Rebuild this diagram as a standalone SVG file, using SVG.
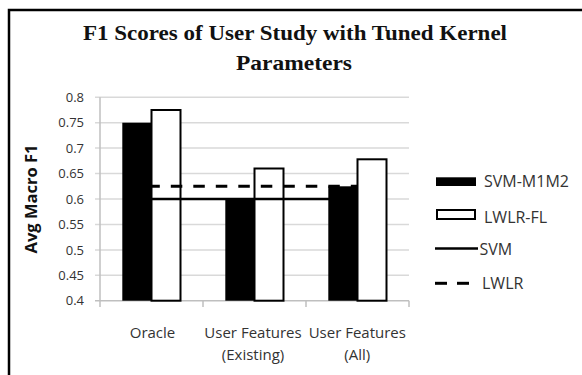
<svg xmlns="http://www.w3.org/2000/svg" width="582" height="375" viewBox="0 0 582 375">
<style>
.title{font-family:"Liberation Serif",serif;font-weight:bold;font-size:22px;fill:#111;text-anchor:middle}
.ylab{font-family:"Open Sans","Liberation Sans",sans-serif;font-size:13px;fill:#333;text-anchor:end}
.cat{font-family:"Open Sans","Liberation Sans",sans-serif;font-size:15px;fill:#333;text-anchor:middle}
.leg{font-family:"Open Sans","Liberation Sans",sans-serif;font-size:16px;fill:#333}
.axt{font-family:"Open Sans","Liberation Sans",sans-serif;font-size:16.5px;font-weight:bold;fill:#111;text-anchor:middle}
.grid{stroke:#d9d9d9;stroke-width:1.5}
.axis{stroke:#bfbfbf;stroke-width:1.5}
.bk{fill:#000}
.wt{fill:#fff;stroke:#000;stroke-width:2}
.solid{stroke:#000;stroke-width:2.5;fill:none}
.dash{stroke:#000;stroke-width:3;fill:none;stroke-dasharray:11.5 11}
</style>
<rect x="0" y="0" width="582" height="375" fill="#fff"/>
<rect x="9" y="10" width="620" height="420" fill="none" stroke="#000" stroke-width="2.5"/>
<g id="title">
<text class="title" x="295" y="40" textLength="424" lengthAdjust="spacingAndGlyphs">F1 Scores of User Study with Tuned Kernel</text>
<text class="title" x="294" y="70" textLength="116" lengthAdjust="spacingAndGlyphs">Parameters</text>
</g>
<g id="grid">
<line class="grid" x1="95" y1="97.3" x2="409" y2="97.3"/>
<line class="grid" x1="95" y1="122.7" x2="409" y2="122.7"/>
<line class="grid" x1="95" y1="148.1" x2="409" y2="148.1"/>
<line class="grid" x1="95" y1="173.6" x2="409" y2="173.6"/>
<line class="grid" x1="95" y1="199" x2="409" y2="199"/>
<line class="grid" x1="95" y1="224.4" x2="409" y2="224.4"/>
<line class="grid" x1="95" y1="249.9" x2="409" y2="249.9"/>
<line class="grid" x1="95" y1="275.3" x2="409" y2="275.3"/>
<line class="axis" x1="95" y1="300.7" x2="409" y2="300.7"/>
<line class="axis" x1="100" y1="97.3" x2="100" y2="300.7"/>
<line class="axis" x1="100" y1="300.7" x2="100" y2="307"/>
<line class="axis" x1="203" y1="300.7" x2="203" y2="307"/>
<line class="axis" x1="306" y1="300.7" x2="306" y2="307"/>
<line class="axis" x1="409" y1="300.7" x2="409" y2="307"/>
</g>
<g id="yaxis">
<text class="ylab" x="84" y="102">0.8</text>
<text class="ylab" x="84" y="127.4">0.75</text>
<text class="ylab" x="84" y="152.8">0.7</text>
<text class="ylab" x="84" y="178.3">0.65</text>
<text class="ylab" x="84" y="203.7">0.6</text>
<text class="ylab" x="84" y="229.1">0.55</text>
<text class="ylab" x="84" y="254.6">0.5</text>
<text class="ylab" x="84" y="280">0.45</text>
<text class="ylab" x="84" y="305.4">0.4</text>
<text class="axt" transform="translate(37,199) rotate(-90)">Avg Macro F1</text>
</g>
<g id="bars">
<rect class="bk" x="122.3" y="122.7" width="29.2" height="178"/>
<rect class="wt" x="151.5" y="110" width="29" height="190.7"/>
<rect class="bk" x="225.3" y="199" width="29.2" height="101.7"/>
<rect class="wt" x="254.5" y="168.5" width="29" height="132.2"/>
<rect class="bk" x="328.3" y="186.3" width="29.2" height="114.4"/>
<rect class="wt" x="357.5" y="159.3" width="29" height="141.4"/>
</g>
<g id="connectors">
<line class="solid" x1="151.5" y1="199" x2="357.5" y2="199"/>
<line class="dash" x1="151.5" y1="186.3" x2="357.5" y2="186.3" stroke-dashoffset="3.2"/>
</g>
<g id="xaxis">
<text class="cat" x="152.5" y="338">Oracle</text>
<text class="cat" x="253" y="338">User Features</text>
<text class="cat" x="253" y="360">(Existing)</text>
<text class="cat" x="357.3" y="338">User Features</text>
<text class="cat" x="357.3" y="360">(All)</text>
</g>
<g id="legend">
<rect x="436" y="177.3" width="40" height="8.7" fill="#000"/>
<text class="leg" x="484" y="187">SVM-M1M2</text>
<rect x="437" y="210" width="38" height="9" fill="#fff" stroke="#000" stroke-width="2"/>
<text class="leg" x="484" y="223">LWLR-FL</text>
<line x1="435" y1="248.5" x2="478" y2="248.5" stroke="#000" stroke-width="2.5"/>
<text class="leg" x="479.5" y="254.5">SVM</text>
<line x1="435" y1="283.3" x2="447" y2="283.3" stroke="#000" stroke-width="3"/>
<line x1="457" y1="283.3" x2="469" y2="283.3" stroke="#000" stroke-width="3"/>
<text class="leg" x="482" y="288.5">LWLR</text>
</g>
</svg>
